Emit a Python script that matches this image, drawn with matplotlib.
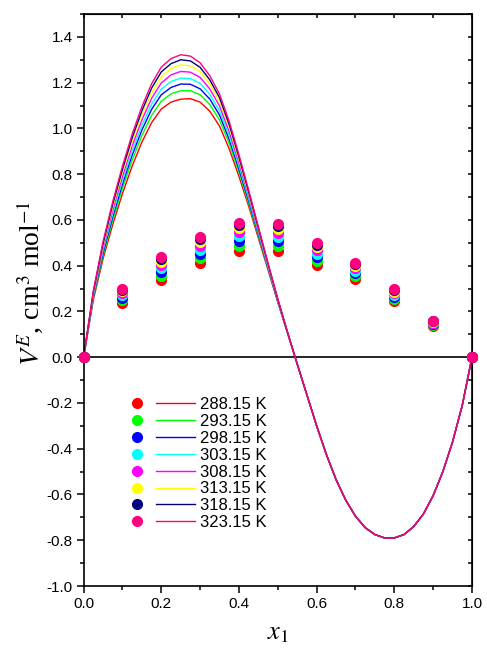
import numpy as np
import matplotlib.pyplot as plt
from matplotlib.lines import Line2D
from matplotlib.legend_handler import HandlerTuple
from matplotlib.ticker import MultipleLocator

plt.rcParams['font.family'] = ['Liberation Sans', 'DejaVu Sans']
plt.rcParams['mathtext.fontset'] = 'stix'

temps = ['288.15 K', '293.15 K', '298.15 K', '303.15 K',
         '308.15 K', '313.15 K', '318.15 K', '323.15 K']
colors = ['#ff0000', '#00ff00', '#0000ff', '#00ffff',
          '#ff00ff', '#ffff00', '#000080', '#ff0080']

# experimental points
x_pts = [0.0, 0.1, 0.2, 0.3, 0.4, 0.5, 0.6, 0.7, 0.8, 0.9, 1.0]
ve_288 = [0.0, 0.238, 0.337, 0.410, 0.465, 0.465, 0.403, 0.340, 0.247, 0.136, 0.0]
ve_293 = [0.0, 0.250, 0.356, 0.432, 0.488, 0.487, 0.421, 0.354, 0.256, 0.140, 0.0]
ve_298 = [0.0, 0.261, 0.374, 0.453, 0.510, 0.508, 0.438, 0.367, 0.265, 0.145, 0.0]
ve_303 = [0.0, 0.270, 0.388, 0.470, 0.528, 0.525, 0.452, 0.378, 0.272, 0.148, 0.0]
ve_308 = [0.0, 0.280, 0.403, 0.488, 0.547, 0.543, 0.467, 0.389, 0.280, 0.151, 0.0]
ve_313 = [0.0, 0.288, 0.417, 0.504, 0.564, 0.559, 0.480, 0.399, 0.287, 0.155, 0.0]
ve_318 = [0.0, 0.295, 0.428, 0.517, 0.577, 0.572, 0.490, 0.407, 0.292, 0.157, 0.0]
ve_323 = [0.0, 0.300, 0.436, 0.526, 0.587, 0.581, 0.498, 0.413, 0.296, 0.159, 0.0]

# fitted curves: left lobe per temperature, right lobe shared
x_left = [0.000, 0.025, 0.050, 0.075, 0.100, 0.125, 0.150, 0.175, 0.200, 0.225, 0.250, 0.275,
          0.300, 0.325, 0.350, 0.375, 0.400, 0.425, 0.450, 0.475, 0.500, 0.525, 0.550]
fit_288 = [0, 0.250, 0.430, 0.580, 0.715, 0.835, 0.940, 1.025, 1.085, 1.115, 1.128, 1.130,
           1.115, 1.075, 1.010, 0.910, 0.790, 0.660, 0.520, 0.380, 0.240, 0.105, -0.03]
fit_293 = [0, 0.258, 0.444, 0.599, 0.738, 0.861, 0.969, 1.057, 1.119, 1.151, 1.165, 1.165,
           1.147, 1.104, 1.036, 0.933, 0.808, 0.673, 0.529, 0.386, 0.243, 0.106, -0.03]
fit_298 = [0, 0.264, 0.455, 0.614, 0.756, 0.883, 0.993, 1.083, 1.147, 1.179, 1.194, 1.193,
           1.173, 1.128, 1.058, 0.951, 0.822, 0.684, 0.537, 0.390, 0.245, 0.107, -0.03]
fit_303 = [0, 0.269, 0.466, 0.627, 0.772, 0.901, 1.014, 1.106, 1.172, 1.205, 1.220, 1.218,
           1.197, 1.149, 1.076, 0.967, 0.835, 0.693, 0.544, 0.394, 0.247, 0.107, -0.03]
fit_308 = [0, 0.275, 0.477, 0.643, 0.790, 0.923, 1.037, 1.131, 1.199, 1.234, 1.249, 1.246,
           1.223, 1.172, 1.098, 0.985, 0.849, 0.704, 0.551, 0.399, 0.249, 0.108, -0.03]
fit_313 = [0, 0.281, 0.488, 0.657, 0.808, 0.943, 1.060, 1.156, 1.226, 1.262, 1.278, 1.273,
           1.248, 1.195, 1.118, 1.003, 0.863, 0.714, 0.559, 0.403, 0.252, 0.109, -0.03]
fit_318 = [0, 0.285, 0.496, 0.669, 0.821, 0.959, 1.077, 1.176, 1.247, 1.283, 1.300, 1.295,
           1.267, 1.212, 1.134, 1.016, 0.874, 0.722, 0.564, 0.407, 0.253, 0.109, -0.03]
fit_323 = [0, 0.290, 0.505, 0.680, 0.835, 0.975, 1.095, 1.195, 1.268, 1.305, 1.322, 1.316,
           1.287, 1.230, 1.150, 1.030, 0.885, 0.730, 0.570, 0.410, 0.255, 0.110, -0.03]
x_right = [0.575, 0.600, 0.625, 0.650, 0.675, 0.700, 0.725, 0.750, 0.775,
           0.800, 0.825, 0.850, 0.875, 0.900, 0.925, 0.950, 0.975, 1.000]
fit_right = [-0.165, -0.300, -0.425, -0.535, -0.625, -0.695, -0.745, -0.775, -0.790,
             -0.790, -0.775, -0.740, -0.685, -0.605, -0.500, -0.370, -0.210, 0.0]

points = [ve_288, ve_293, ve_298, ve_303, ve_308, ve_313, ve_318, ve_323]
fits = [fit_288, fit_293, fit_298, fit_303, fit_308, fit_313, fit_318, fit_323]

fig = plt.figure(figsize=(4.87, 6.52), dpi=100)
ax = fig.add_axes([0.1717, 0.1012, 0.7975, 0.8773])

ax.axhline(0, color='black', lw=1.2, zorder=1.5)

for fit, c in zip(fits, colors):
    ax.plot(x_left + x_right, fit + fit_right, color=c, lw=1.0, zorder=2)

for vals, c in zip(points, colors):
    ax.plot(x_pts, vals, 'o', color=c, mec=c, ms=7, zorder=3, clip_on=False)

ax.set_xlim(0, 1)
ax.set_ylim(-1.0, 1.5)
ax.set_xticks(np.arange(0, 1.01, 0.2))
ax.set_yticks(np.arange(-1.0, 1.41, 0.2))
ax.xaxis.set_minor_locator(MultipleLocator(0.1))
ax.yaxis.set_minor_locator(MultipleLocator(0.1))
fmt = lambda v, p: f'{round(v, 1) + 0.0:.1f}'
ax.xaxis.set_major_formatter(fmt)
ax.yaxis.set_major_formatter(fmt)
ax.tick_params(which='major', direction='out', length=5, width=1.1, labelsize=11, pad=3)
ax.tick_params(which='minor', direction='out', length=3, width=1.1)
for s in ax.spines.values():
    s.set_linewidth(1.2)

top = ax.secondary_xaxis('top')
top.set_xticks(np.arange(0, 1.01, 0.2))
top.xaxis.set_minor_locator(MultipleLocator(0.1))
top.tick_params(which='both', direction='in', length=3, width=1.1, labeltop=False)
right = ax.secondary_yaxis('right')
right.set_yticks(np.arange(-1.0, 1.41, 0.2))
right.yaxis.set_minor_locator(MultipleLocator(0.1))
right.tick_params(which='both', direction='in', length=3, width=1.1, labelright=False)

ax.set_ylabel(r'$V^{E}$, cm$^{3}$ mol$^{-1}$', family='Liberation Serif',
              fontsize=20, va='center')
ax.yaxis.set_label_coords(-0.138, 0.53)
ax.set_xlabel(r'$x_{1}$', fontsize=19, va='center')
ax.xaxis.set_label_coords(0.5, -0.082)

handles = [(Line2D([], [], marker='o', ls='none', color=c, ms=7),
            Line2D([], [], color=c, lw=1.0)) for c in colors]
ax.legend(handles, temps, handler_map={tuple: HandlerTuple(ndivide=None, pad=0)},
          frameon=False, loc='upper left', bbox_to_anchor=(0.086, 0.33),
          borderpad=0, borderaxespad=0, handlelength=4.7, handletextpad=0.3,
          labelspacing=0.11, fontsize=12)

fig.savefig('out.png', dpi=100)
